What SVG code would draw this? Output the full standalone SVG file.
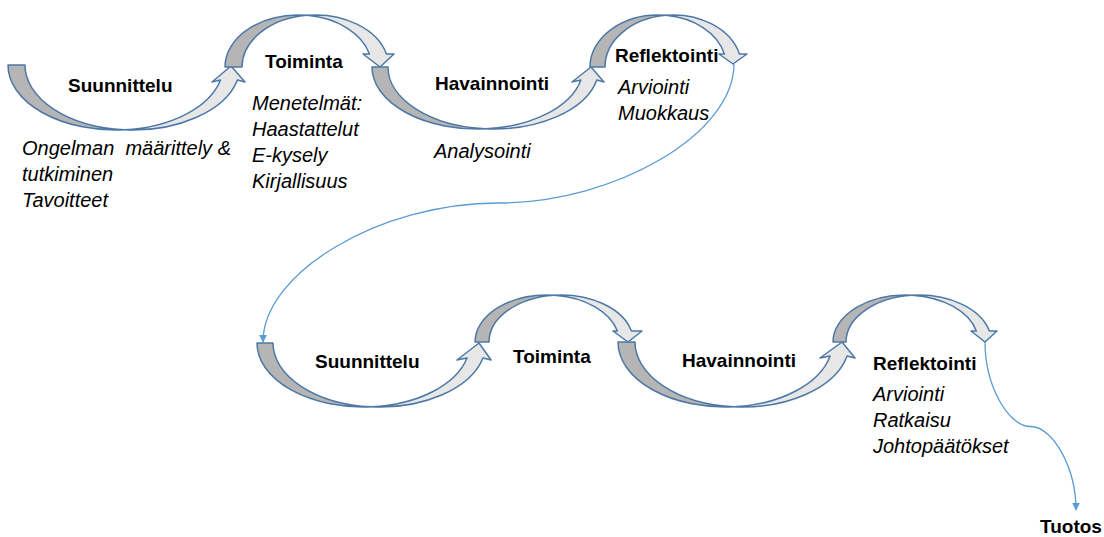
<svg xmlns="http://www.w3.org/2000/svg" width="1104" height="537" viewBox="0 0 1104 537">
<defs>
<style>
.bk{fill:#b5b5b5;stroke:#4d78a6;stroke-width:1.5;stroke-linejoin:round}
.fr{fill:#e7e7e7;stroke:#4d78a6;stroke-width:1.5;stroke-linejoin:round}
.lb{font-family:"Liberation Sans",Arial,sans-serif;font-weight:bold;font-size:19px;fill:#000}
.it{font-family:"Liberation Sans",Arial,sans-serif;font-style:italic;font-size:20px;fill:#000;white-space:pre}
.cn{fill:none;stroke:#5b9bd5;stroke-width:1.3}
</style>
<marker id="ah" viewBox="0 0 10 10" refX="9" refY="5" markerWidth="8" markerHeight="8" markerUnits="userSpaceOnUse" orient="auto">
<path d="M0,0 L10,5 L0,10 z" fill="#5b9bd5"/>
</marker>
</defs>
<rect width="1104" height="537" fill="#fff"/>

<g id="suunnittelu1">
<path class="bk" d="M 8 65 A 107.7 65 0 0 0 124.2 129.8 A 107.7 65 0 0 1 25 65 Z"/>
<path class="fr" d="M 124.2 129.8 A 107.7 65 0 0 0 237.49 80 L 245 82 L 231 66 L 212 82 L 220.49 80 A 107.7 65 0 0 1 124.2 129.8 Z"/>
<text class="lb" x="68" y="92">Suunnittelu</text>
<text class="it" x="22" y="155">Ongelman  määrittely &amp;</text>
<text class="it" x="22" y="181">tutkiminen</text>
<text class="it" x="22" y="207">Tavoitteet</text>
</g>

<g id="toiminta1">
<path class="bk" d="M 225 67 A 73.4 52 0 0 1 306.9 15.35 A 73.4 52 0 0 0 242 67 Z"/>
<path class="fr" d="M 306.9 15.35 A 73.4 52 0 0 1 386.47 54 L 394 54 L 380 67 L 363 54 L 369.47 54 A 73.4 52 0 0 0 306.9 15.35 Z"/>
<text class="lb" x="265" y="68">Toiminta</text>
<text class="it" x="252" y="110">Menetelmät:</text>
<text class="it" x="252" y="136">Haastattelut</text>
<text class="it" x="252" y="162">E-kysely</text>
<text class="it" x="252" y="188">Kirjallisuus</text>
</g>

<g id="havainnointi1">
<path class="bk" d="M 372 67 A 105.6 62 0 0 0 485.6 128.82 A 105.6 62 0 0 1 388 67 Z"/>
<path class="fr" d="M 485.6 128.82 A 105.6 62 0 0 0 596.85 80 L 604 82 L 591 67 L 572 82 L 580.85 80 A 105.6 62 0 0 1 485.6 128.82 Z"/>
<text class="lb" x="435" y="90">Havainnointi</text>
<text class="it" x="434" y="158">Analysointi</text>
</g>

<g id="reflektointi1">
<path class="bk" d="M 590 67 A 68.3 52 0 0 1 665.8 15.31 A 68.3 52 0 0 0 605 67 Z"/>
<path class="fr" d="M 665.8 15.31 A 68.3 52 0 0 1 739.43 54 L 747 54 L 733 64 L 719 54 L 724.43 54 A 68.3 52 0 0 0 665.8 15.31 Z"/>
<text class="lb" x="615" y="62">Reflektointi</text>
<text class="it" x="618" y="94">Arviointi</text>
<text class="it" x="618" y="120">Muokkaus</text>
</g>

<g id="suunnittelu2">
<path class="bk" d="M 257 343 A 106.5 64 0 0 0 371.5 406.82 A 106.5 64 0 0 1 273 343 Z"/>
<path class="fr" d="M 371.5 406.82 A 106.5 64 0 0 0 483.03 358 L 491 360 L 479 343 L 457 360 L 467.03 358 A 106.5 64 0 0 1 371.5 406.82 Z"/>
<text class="lb" x="315" y="368">Suunnittelu</text>
</g>

<g id="toiminta2">
<path class="bk" d="M 475 342 A 72.2 47 0 0 1 554.2 295.22 A 72.2 47 0 0 0 489 342 Z"/>
<path class="fr" d="M 554.2 295.22 A 72.2 47 0 0 1 631.39 331 L 642 331 L 628 342 L 613 331 L 617.39 331 A 72.2 47 0 0 0 554.2 295.22 Z"/>
<text class="lb" x="513" y="363">Toiminta</text>
</g>

<g id="havainnointi2">
<path class="bk" d="M 618 342 A 107.3 65 0 0 0 733.8 406.8 A 107.3 65 0 0 1 635 342 Z"/>
<path class="fr" d="M 733.8 406.8 A 107.3 65 0 0 0 847.08 356 L 855 358 L 842 342 L 820 358 L 830.08 356 A 107.3 65 0 0 1 733.8 406.8 Z"/>
<text class="lb" x="682" y="367">Havainnointi</text>
</g>

<g id="reflektointi2">
<path class="bk" d="M 833 342 A 72.7 47 0 0 1 912.2 295.19 A 72.7 47 0 0 0 846 342 Z"/>
<path class="fr" d="M 912.2 295.19 A 72.7 47 0 0 1 989.38 331 L 997 331 L 985 342 L 971 331 L 976.38 331 A 72.7 47 0 0 0 912.2 295.19 Z"/>
<text class="lb" x="873" y="370">Reflektointi</text>
<text class="it" x="873" y="401">Arviointi</text>
<text class="it" x="873" y="427">Ratkaisu</text>
<text class="it" x="873" y="453">Johtopäätökset</text>
</g>

<g id="tuotos">
<text class="lb" x="1040" y="533">Tuotos</text>
</g>

<g id="connectors">
<path class="cn" marker-end="url(#ah)" d="M 734 64 C 734 133.5 616 203 498 203 C 380 203 263 272.5 263 342"/>
<path class="cn" marker-end="url(#ah)" d="M 985 342 C 985 384.75 1007.75 426.5 1030.5 426.5 C 1053.25 426.5 1076 468.25 1076 510"/>
</g>
</svg>
